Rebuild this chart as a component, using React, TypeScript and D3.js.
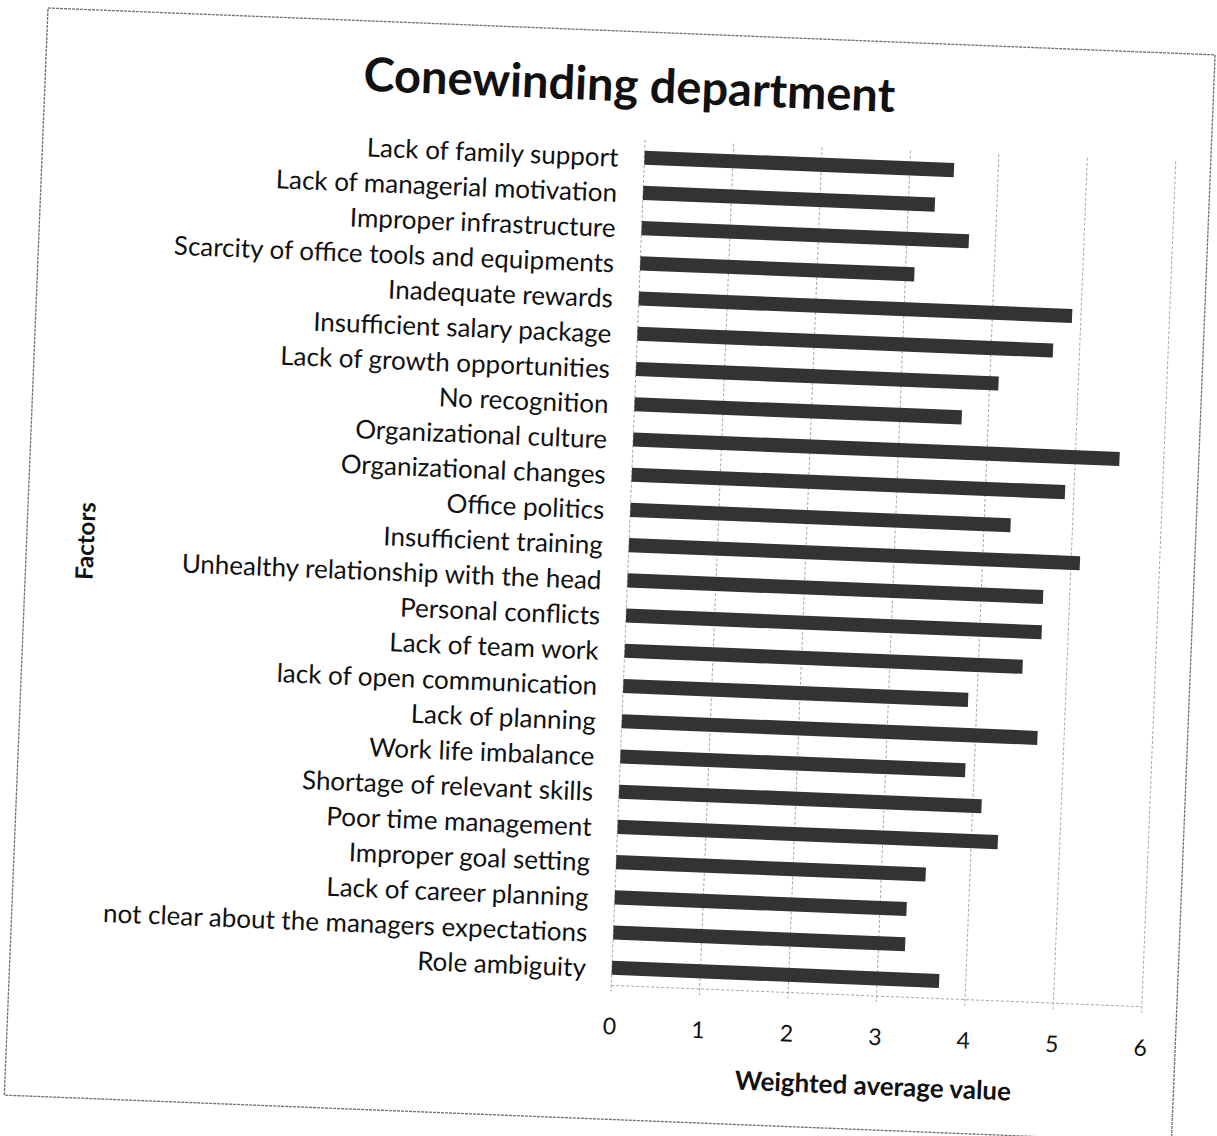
import React from "react";
import * as d3 from "d3";

// Factors, top to bottom, and their weighted average scores
const categories: string[] = [
  "Lack of family support",
  "Lack of managerial motivation",
  "Improper infrastructure",
  "Scarcity of office tools and equipments",
  "Inadequate rewards",
  "Insufficient salary package",
  "Lack of growth opportunities",
  "No recognition",
  "Organizational culture",
  "Organizational changes",
  "Office politics",
  "Insufficient training",
  "Unhealthy relationship with the head",
  "Personal conflicts",
  "Lack of team work",
  "lack of open communication",
  "Lack of planning",
  "Work life imbalance",
  "Shortage of relevant skills",
  "Poor time management",
  "Improper goal setting",
  "Lack of career planning",
  "not clear about the managers expectations",
  "Role ambiguity",
];

const values: number[] = [
  3.5, 3.3, 3.7, 3.1, 4.9, 4.7, 4.1, 3.7, 5.5, 4.9, 4.3, 5.1,
  4.7, 4.7, 4.5, 3.9, 4.7, 3.9, 4.1, 4.3, 3.5, 3.3, 3.3, 3.7,
];

const xTicks: number[] = [0, 1, 2, 3, 4, 5, 6];

const chartTitle = "Conewinding department";
const xTitle = "Weighted average value";
const yTitle = "Factors";

const FONT = "Lato, 'Open Sans', 'DejaVu Sans', sans-serif";

export default function App() {
  const W = 1217;
  const H = 1136;
  const frameW = 1168;
  const frameH = 1088;

  const plot = { left: 602, right: 1133, top: 108, bottom: 954 };

  const x = d3.scaleLinear().domain([0, 6]).range([plot.left, plot.right]);
  const y = d3
    .scaleBand<string>()
    .domain(categories)
    .range([plot.top, plot.bottom])
    .paddingInner(0.6)
    .paddingOuter(0.3);

  const rows = categories.map((c, i) => ({ c, v: values[i] }));

  return (
    <svg
      width={W}
      height={H}
      style={{ position: "absolute", left: 0, top: 0, background: "#fff" }}
    >
      <rect x={0} y={0} width={W} height={H} fill="#fff" />
      <g transform="translate(48,8) rotate(2.3)">
        {/* chart frame */}
        <rect
          x={0}
          y={0}
          width={frameW}
          height={frameH}
          fill="none"
          stroke="#707070"
          strokeWidth={1.3}
          strokeDasharray="3 1"
        />

        <text
          x={frameW / 2}
          y={52}
          textAnchor="middle"
          dominantBaseline="central"
          fontFamily={FONT}
          fontWeight={700}
          fontSize={47}
          fill="#111"
        >
          {chartTitle}
        </text>

        {/* vertical gridlines with small ticks below the axis */}
        {xTicks.map((t) => (
          <line
            key={`g${t}`}
            x1={x(t)}
            x2={x(t)}
            y1={plot.top}
            y2={plot.bottom + 6}
            stroke="#a8a8a8"
            strokeWidth={1}
            strokeDasharray="3 2"
          />
        ))}
        {/* value axis line */}
        <line
          x1={plot.left}
          x2={plot.right}
          y1={plot.bottom}
          y2={plot.bottom}
          stroke="#a8a8a8"
          strokeWidth={1}
          strokeDasharray="3 2"
        />

        {/* bars */}
        {rows.map((r) => (
          <rect
            key={r.c}
            x={x(0)}
            y={y(r.c)!}
            width={x(r.v) - x(0)}
            height={y.bandwidth()}
            fill="#333333"
          />
        ))}

        {/* category labels */}
        {rows.map((r) => (
          <text
            key={`l${r.c}`}
            x={plot.left - 26}
            y={y(r.c)! + y.bandwidth() / 2}
            textAnchor="end"
            dominantBaseline="central"
            fontFamily={FONT}
            fontSize={26}
            fill="#111"
          >
            {r.c}
          </text>
        ))}

        {/* tick labels */}
        {xTicks.map((t) => (
          <text
            key={`t${t}`}
            x={x(t)}
            y={994}
            textAnchor="middle"
            dominantBaseline="central"
            fontFamily={FONT}
            fontSize={23}
            fill="#111"
          >
            {t}
          </text>
        ))}

        <text
          x={(plot.left + plot.right) / 2}
          y={1043}
          textAnchor="middle"
          dominantBaseline="central"
          fontFamily={FONT}
          fontWeight={700}
          fontSize={26}
          fill="#111"
        >
          {xTitle}
        </text>

        <text
          transform={`translate(58,${(plot.top + plot.bottom) / 2}) rotate(-90)`}
          textAnchor="middle"
          dominantBaseline="central"
          fontFamily={FONT}
          fontWeight={700}
          fontSize={24}
          fill="#111"
        >
          {yTitle}
        </text>
      </g>
    </svg>
  );
}
